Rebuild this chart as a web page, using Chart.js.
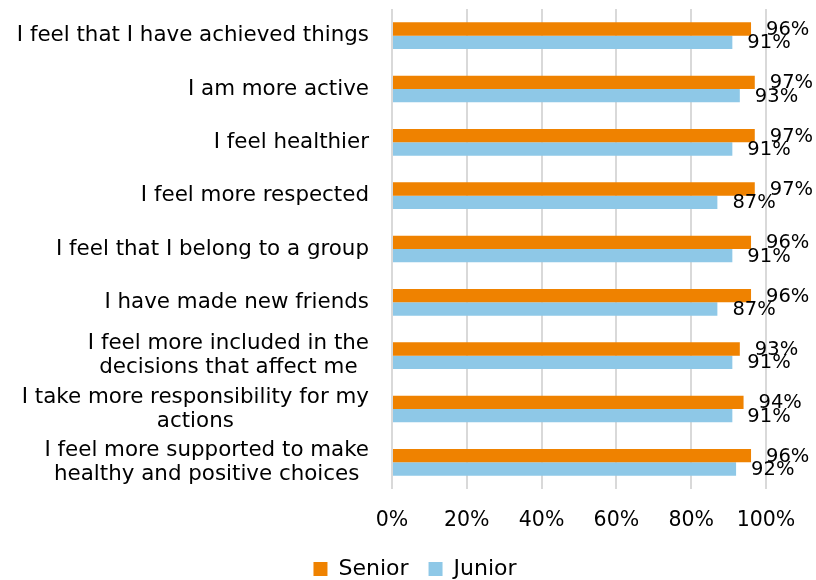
<!DOCTYPE html>
<html>
<head>
<meta charset="utf-8">
<script src="https://cdn.jsdelivr.net/npm/chart.js@4.4.1/dist/chart.umd.min.js"></script>
<style>
  html, body { margin: 0; padding: 0; background: #fff; }
  #wrap { width: 816px; height: 580px; position: relative; }
</style>
</head>
<body>
<div id="wrap"><canvas id="outcomeChart"></canvas></div>
<script>
const categories = [
  ['I feel that I have achieved things'],
  ['I am more active'],
  ['I feel healthier'],
  ['I feel more respected'],
  ['I feel that I belong to a group'],
  ['I have made new friends'],
  ['I feel more included in the', 'decisions that affect me'],
  ['I take more responsibility for my', 'actions'],
  ['I feel more supported to make', 'healthy and positive choices']
];
const senior = [96, 97, 97, 97, 96, 96, 93, 94, 96];
const junior = [91, 93, 91, 87, 91, 87, 91, 91, 92];
const xTicks = [0, 20, 40, 60, 80, 100];

const FONT = "'DejaVu Sans', sans-serif";
const ORANGE = '#EF8200';
const BLUE = '#8EC8E7';

// value labels just past the end of each bar
const valueLabels = {
  id: 'valueLabels',
  afterDatasetsDraw(chart) {
    const c = chart.ctx;
    c.save();
    c.font = '19.5px ' + FONT;
    c.fillStyle = '#000';
    c.textAlign = 'left';
    c.textBaseline = 'middle';
    chart.data.datasets.forEach((ds, i) => {
      chart.getDatasetMeta(i).data.forEach((bar, j) => {
        c.fillText(ds.data[j] + '%', bar.x + 15, bar.y + 1);
      });
    });
    c.restore();
  }
};

// category labels, each block right-aligned with its lines centred
const categoryLabels = {
  id: 'categoryLabels',
  afterDraw(chart) {
    const c = chart.ctx;
    const y = chart.scales.y;
    const right = chart.chartArea.left - 23;
    const lineH = 24;
    c.save();
    c.font = '21.4px ' + FONT;
    c.fillStyle = '#000';
    c.textAlign = 'center';
    c.textBaseline = 'middle';
    categories.forEach((lines, i) => {
      const cy = y.getPixelForValue(i);
      const w = Math.max(...lines.map(l => c.measureText(l).width));
      const cx = right - w / 2;
      const top = cy - (lines.length - 1) * lineH / 2;
      lines.forEach((l, k) => c.fillText(l, cx, top + k * lineH));
    });
    c.restore();
  }
};

new Chart(document.getElementById('outcomeChart'), {
  type: 'bar',
  data: {
    labels: categories.map(l => l.join(' ')),
    datasets: [
      { label: 'Senior', data: senior, backgroundColor: ORANGE },
      { label: 'Junior', data: junior, backgroundColor: BLUE }
    ]
  },
  options: {
    indexAxis: 'y',
    responsive: true,
    maintainAspectRatio: false,
    animation: false,
    datasets: { bar: { categoryPercentage: 0.5, barPercentage: 1.0 } },
    layout: { padding: { left: 0, right: -14, top: 9, bottom: -10 } },
    scales: {
      x: {
        min: 0,
        max: 100,
        afterBuildTicks(scale) { scale.ticks = xTicks.map(v => ({ value: v })); },
        afterFit(scale) { scale.height = 49; },
        ticks: {
          padding: 19,
          color: '#000',
          font: { family: FONT, size: 20.5 },
          callback: v => v + '%'
        },
        grid: { color: '#d9d9d9', lineWidth: 2, drawTicks: false },
        border: { display: false }
      },
      y: {
        ticks: { display: false },
        grid: { display: false },
        border: { display: false },
        afterFit(scale) { scale.width = 392; }
      },
      // empty right-hand axis keeps room for the value labels
      yRight: {
        position: 'right',
        ticks: { display: false },
        grid: { display: false },
        border: { display: false },
        afterFit(scale) { scale.width = 64; }
      }
    },
    plugins: {
      legend: {
        position: 'bottom',
        labels: {
          color: '#000',
          font: { family: FONT, size: 22 },
          boxWidth: 14,
          boxHeight: 14,
          padding: 20
        }
      },
      tooltip: { enabled: false }
    }
  },
  plugins: [valueLabels, categoryLabels]
});
</script>
</body>
</html>
